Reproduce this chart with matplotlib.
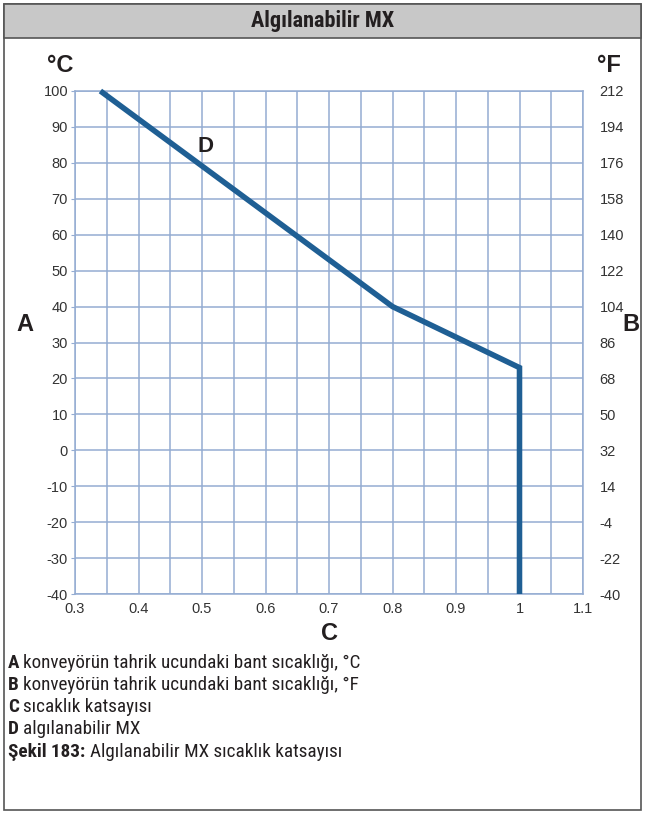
import matplotlib
matplotlib.use("Agg")
import matplotlib.pyplot as plt
from matplotlib.patches import Rectangle
from matplotlib import font_manager

# Temperature coefficient curve for the detectable MX belt
coef = [0.34, 0.8, 1.0, 1.0]
temp_c = [100, 40, 23, -40]

x_ticks = [0.3, 0.4, 0.5, 0.6, 0.7, 0.8, 0.9, 1, 1.1]
x_labels = ["0.3", "0.4", "0.5", "0.6", "0.7", "0.8", "0.9", "1", "1.1"]
c_ticks = [100, 90, 80, 70, 60, 50, 40, 30, 20, 10, 0, -10, -20, -30, -40]
f_labels = ["212", "194", "176", "158", "140", "122", "104", "86", "68",
            "50", "32", "14", "-4", "-22", "-40"]

title = "Algılanabilir MX"
legend_rows = [
    ("A", "konveyörün tahrik ucundaki bant sıcaklığı, °C"),
    ("B", "konveyörün tahrik ucundaki bant sıcaklığı, °F"),
    ("C", "sıcaklık katsayısı"),
    ("D", "algılanabilir MX"),
]
caption_head = "Şekil 183:"
caption_body = "Algılanabilir MX sıcaklık katsayısı"

# pick a condensed sans family that ships both regular and bold
weights = {}
for f in font_manager.fontManager.ttflist:
    w = f.weight if isinstance(f.weight, int) else 400
    weights.setdefault(f.name, set()).add(w)
NARROW = "Liberation Sans"
for cand in ["Roboto Condensed", "Archivo Narrow", "PT Sans Narrow",
             "Liberation Sans Narrow", "Fira Sans Condensed",
             "IBM Plex Sans Condensed", "Encode Sans Condensed",
             "Asap Condensed", "Barlow Semi Condensed", "Pragati Narrow"]:
    ws = weights.get(cand, set())
    if 400 in ws and 700 in ws:
        NARROW = cand
        break

BASE = ["Liberation Sans", "DejaVu Sans"]
COND = [NARROW, "Liberation Sans", "DejaVu Sans"]
plt.rcParams["font.family"] = BASE

GRID = "#94acd2"
LINE = "#1f5f94"
TXT = "#231f20"
TICK = "#333333"

W, H = 645, 815
fig = plt.figure(figsize=(W / 100, H / 100), dpi=100)

def fx(px):
    return px / W

def fy(py):
    return 1 - py / H

# outer frame and header band
fig.patches.append(Rectangle((fx(4), fy(810)), fx(641) - fx(4), fy(4) - fy(810),
                             transform=fig.transFigure, fill=False,
                             edgecolor="#555555", linewidth=1.2))
fig.patches.append(Rectangle((fx(4), fy(38)), fx(641) - fx(4), fy(4) - fy(38),
                             transform=fig.transFigure, facecolor="#c8c8c8",
                             edgecolor="#555555", linewidth=1.2))
fig.text(0.5, fy(21), title, ha="center", va="center", fontsize=16,
         fontweight="bold", color=TXT, family=COND)

ax = fig.add_axes([fx(75), fy(594), fx(583) - fx(75), fy(91) - fy(594)])
ax.set_xlim(0.3, 1.1)
ax.set_ylim(-40, 100)

minor_x = [0.3 + 0.05 * i for i in range(17)]
ax.set_xticks(minor_x, minor=True)
ax.set_xticks(x_ticks)
ax.set_xticklabels(x_labels)
ax.set_yticks(c_ticks)
ax.set_yticklabels([str(v) for v in c_ticks])
ax.grid(True, which="both", color=GRID, linewidth=1.1)
ax.set_axisbelow(True)
for s in ax.spines.values():
    s.set_color(GRID)
    s.set_linewidth(1.1)
ax.tick_params(axis="x", which="both", length=0, pad=6, labelsize=10.5,
               labelcolor=TICK)
ax.tick_params(axis="y", length=3, color=GRID, pad=2, labelsize=10.5,
               labelcolor=TICK)

ax2 = ax.twinx()
ax2.set_ylim(ax.get_ylim())
ax2.set_yticks(c_ticks)
ax2.set_yticklabels(f_labels)
ax2.tick_params(axis="y", length=0, pad=12, labelsize=10.5, labelcolor=TICK)
for s in ax2.spines.values():
    s.set_visible(False)

ax.plot(coef, temp_c, color=LINE, linewidth=4.0, solid_joinstyle="miter",
        solid_capstyle="butt", zorder=5, clip_on=False)

ax.text(0.505, 84.5, "D", ha="center", va="center", fontsize=16,
        fontweight="bold", color=TXT)

bold = dict(fontweight="bold", color=TXT, fontsize=17)
fig.text(fx(60), fy(66), "°C", ha="center", va="center", **bold)
fig.text(fx(609), fy(66), "°F", ha="center", va="center", **bold)
fig.text(fx(25), fy(325), "A", ha="center", va="center", **bold)
fig.text(fx(631), fy(325), "B", ha="center", va="center", **bold)
fig.text(fx(330), fy(634), "C", ha="center", va="center", **bold)

# key below the chart
KEY_SIZE = 13.8
row_y = [663, 685, 707, 729]
for (key, desc), y in zip(legend_rows, row_y):
    t = fig.text(fx(8), fy(y), key, ha="left", va="center", fontsize=KEY_SIZE,
                 fontweight="bold", color=TXT, family=COND)
    fig.canvas.draw()
    bb = t.get_window_extent()
    fig.text(bb.x1 / W + fx(4), fy(y), desc, ha="left", va="center",
             fontsize=KEY_SIZE, color=TXT, family=COND)

t = fig.text(fx(8), fy(752), caption_head, ha="left", va="center",
             fontsize=KEY_SIZE, fontweight="bold", color=TXT, family=COND)
fig.canvas.draw()
bb = t.get_window_extent()
fig.text(bb.x1 / W + fx(5), fy(752), caption_body, ha="left", va="center",
         fontsize=KEY_SIZE, color=TXT, family=COND)

fig.savefig("out.png", dpi=100)
